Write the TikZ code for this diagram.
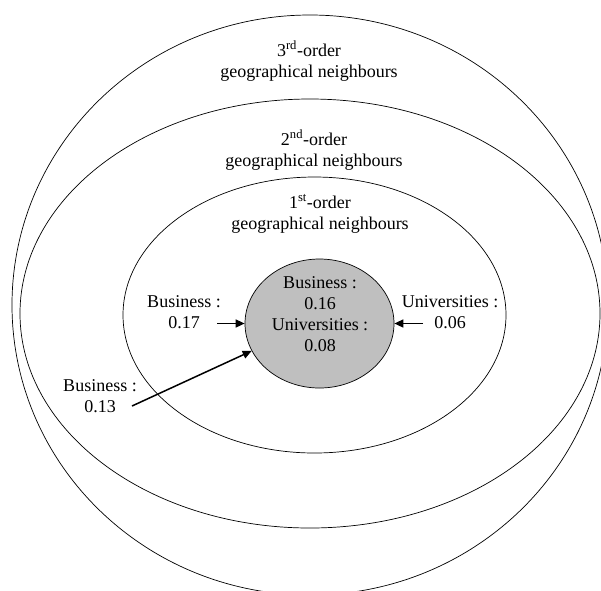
\documentclass[tikz,border=0pt]{standalone}
\usepackage{fontspec}
\setmainfont{Liberation Serif}
\usepackage{tikz}
\usetikzlibrary{arrows.meta,shapes.geometric,positioning}

\begin{document}
\begin{tikzpicture}[x=1pt,y=-1pt,
		ring/.style={line width=0.7pt},
		lbl/.style={align=center,font=\fontsize{18}{21}\selectfont,inner sep=0pt},
		flow/.style={line width=1.5pt,-{Triangle[length=9pt,width=8pt]}}]
				 %\draw[color=gray,step=10pt, help lines,opacity=0.3] (0,0) grid (601,590); %help grids
				 \useasboundingbox (0,0) rectangle (601,590);
				 \clip (0,0) rectangle (601,590);
				 % neighbour rings
				\draw[ring] (310,305) ellipse [x radius=298,y radius=290];
				\draw[ring] (310,313.5) ellipse [x radius=290,y radius=214.5];
				\draw[ring] (314.5,315) ellipse [x radius=191.5,y radius=138];
				\node[lbl] (third) at (309,61) {3\textsuperscript{rd}-order\\geographical neighbours};
				\node[lbl] (second) at (314,150) {2\textsuperscript{nd}-order\\geographical neighbours};
				\node[lbl] (first) at (320,214) {1\textsuperscript{st}-order\\geographical neighbours};
				 % the region itself
				\node[ellipse,draw,ring,fill=black!25,minimum width=149pt,minimum height=129pt,inner sep=0pt] (core) at (319.5,323.5) {};
				\node[lbl] (coretxt) at (320,314) {Business :\\0.16\\Universities :\\0.08};
				 % spillovers
				\node[lbl] (bus17) at (184,312) {Business :\\0.17};
				\node[lbl] (uni06) at (450,312) {Universities :\\0.06};
				\node[lbl] (bus13) at (100,396) {Business :\\0.13};
				\coordinate (tail17) at (217,323.5);
				\coordinate (tail06) at (423,323.5);
				\coordinate (tail13) at (132,406);
				\draw[flow] (tail17)--(core.west);
				\draw[flow] (tail06)--(core.east);
				\draw[flow] (tail13)--(core.202);
\end{tikzpicture}
\end{document}
